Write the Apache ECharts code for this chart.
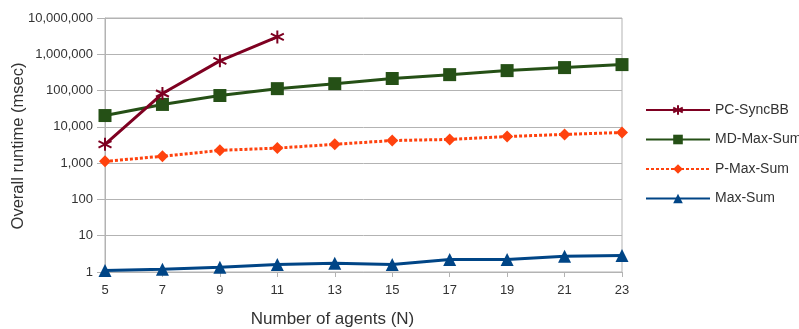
<!DOCTYPE html>
<html>
<head>
<meta charset="utf-8">
<script src="https://cdn.jsdelivr.net/npm/echarts@6/dist/echarts.min.js"></script>
<style>
  html, body { margin: 0; padding: 0; background: #fff; }
  #chart { width: 799px; height: 329px; }
</style>
</head>
<body>
<div id="chart"></div>
<script>
// Number of agents on the x axis
const agents = ['5', '7', '9', '11', '13', '15', '17', '19', '21', '23'];

// Overall runtime (msec) per algorithm
const pcSyncBB = [3300, 83000, 660000, 3000000, null, null, null, null, null, null];
const mdMaxSum = [20500, 41500, 73000, 113000, 155000, 215000, 275000, 355000, 430000, 520000];
const pMaxSum = [1120, 1550, 2250, 2600, 3300, 4200, 4500, 5400, 6200, 7000];
const maxSum = [1.1, 1.2, 1.35, 1.6, 1.75, 1.6, 2.2, 2.2, 2.7, 2.85];

const yTicks = [1, 10, 100, 1000, 10000, 100000, 1000000, 10000000];

// Six-armed asterisk drawn as stroked segments
const asterisk = 'path://M0,-10 L0,10 M-8.66,-5 L8.66,5 M-8.66,5 L8.66,-5';

const chart = echarts.init(document.getElementById('chart'), null, { renderer: 'canvas' });

const font = 'Liberation Sans, Arial, sans-serif';

chart.setOption({
  animation: false,
  textStyle: { fontFamily: font },
  grid: {
    left: 105, right: 177, top: 18, bottom: 57,
    containLabel: false, outerBoundsMode: 'none',
    show: true, borderColor: '#b3b3b3', borderWidth: 1
  },
  // Vertical y-axis title
  graphic: [{
    type: 'text',
    x: 18,
    y: 146,
    rotation: Math.PI / 2,
    style: {
      text: 'Overall runtime (msec)',
      fill: '#333',
      font: '16.5px Liberation Sans, Arial, sans-serif',
      align: 'center',
      verticalAlign: 'middle'
    }
  }],
  legend: {
    orient: 'vertical',
    left: 645,
    top: 103,
    padding: 0,
    itemWidth: 64,
    itemHeight: 12,
    itemGap: 15.5,
    textStyle: { fontFamily: font, fontSize: 14, color: '#333' },
    data: ['PC-SyncBB', 'MD-Max-Sum', 'P-Max-Sum', 'Max-Sum']
  },
  xAxis: {
    type: 'category',
    data: agents,
    boundaryGap: false,
    name: 'Number of agents (N)',
    nameLocation: 'middle',
    nameGap: 39,
    nameTextStyle: { fontFamily: font, fontSize: 17, color: '#333', padding: [0, 62, 0, 0] },
    axisLine: { lineStyle: { color: '#b3b3b3', width: 1 } },
    axisTick: { show: true, alignWithLabel: true, length: 5, lineStyle: { color: '#b3b3b3' } },
    axisLabel: { fontFamily: font, fontSize: 13, color: '#333', margin: 12 },
    splitLine: { show: false }
  },
  yAxis: {
    type: 'log',
    logBase: 10,
    min: 1,
    max: 10000000,
    axisLine: { show: true, lineStyle: { color: '#b3b3b3', width: 1 } },
    axisTick: { show: true, length: 8, lineStyle: { color: '#b3b3b3' } },
    axisLabel: {
      fontFamily: font, fontSize: 13, color: '#333', margin: 12,
      formatter: v => Math.round(v).toLocaleString('en-US')
    },
    splitLine: { show: true, lineStyle: { color: '#b3b3b3', width: 1 } }
  },
  series: [
    {
      name: 'PC-SyncBB',
      type: 'line',
      data: pcSyncBB,
      symbol: asterisk,
      symbolSize: 13,
      showAllSymbol: true,
      lineStyle: { color: '#7e0021', width: 3 },
      itemStyle: { color: '#7e0021', borderColor: '#7e0021', borderWidth: 2 },
      z: 5
    },
    {
      name: 'MD-Max-Sum',
      type: 'line',
      data: mdMaxSum,
      symbol: 'rect',
      symbolSize: 13,
      showAllSymbol: true,
      lineStyle: { color: '#255016', width: 3 },
      itemStyle: { color: '#255016' },
      z: 4
    },
    {
      name: 'P-Max-Sum',
      type: 'line',
      data: pMaxSum,
      symbol: 'diamond',
      symbolSize: 12,
      showAllSymbol: true,
      lineStyle: { color: '#ff420e', width: 3, type: [3, 2] },
      itemStyle: { color: '#ff420e' },
      z: 3
    },
    {
      name: 'Max-Sum',
      type: 'line',
      data: maxSum,
      symbol: 'triangle',
      symbolSize: 13,
      showAllSymbol: true,
      lineStyle: { color: '#004586', width: 3 },
      itemStyle: { color: '#004586' },
      z: 2
    }
  ]
});
</script>
</body>
</html>
